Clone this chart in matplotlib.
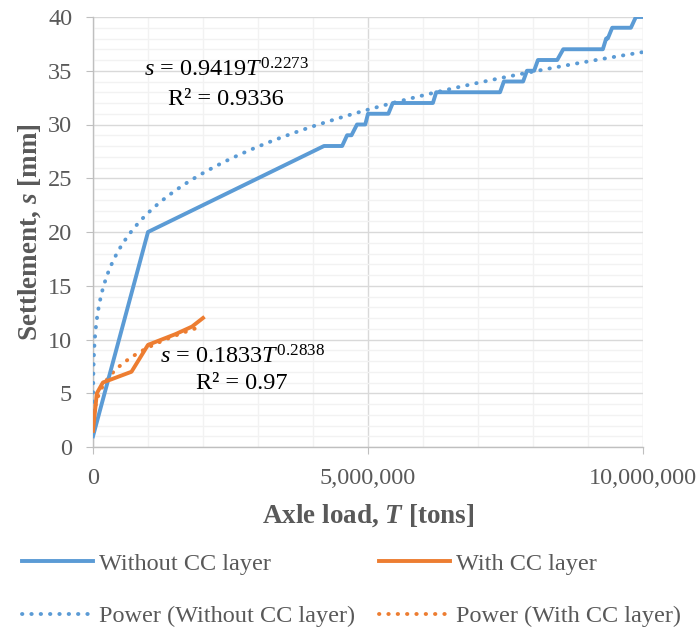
import numpy as np
import matplotlib
matplotlib.use('Agg')
import matplotlib.pyplot as plt
from matplotlib.ticker import MultipleLocator, FuncFormatter

plt.rcParams['font.family'] = 'Liberation Serif'
plt.rcParams['mathtext.fontset'] = 'custom'
plt.rcParams['mathtext.rm'] = 'Liberation Serif'
plt.rcParams['mathtext.it'] = 'Liberation Serif:italic'
plt.rcParams['mathtext.bf'] = 'Liberation Serif:bold'
plt.rcParams['mathtext.bfit'] = 'Liberation Serif:bold:italic'

# measured settlement, without CC layer
T_without = [0, 1.0e6, 4.2e6, 4.53e6, 4.62e6, 4.7e6, 4.8e6, 4.95e6, 5.0e6, 5.37e6,
             5.45e6, 6.18e6, 6.24e6, 7.4e6, 7.47e6, 7.82e6, 7.89e6, 8.02e6, 8.09e6,
             8.44e6, 8.55e6, 9.27e6, 9.33e6, 9.36e6, 9.44e6, 9.78e6, 9.87e6, 10.0e6]
s_without = [1, 20, 28, 28, 29, 29, 30, 30, 31, 31,
             32, 32, 33, 33, 34, 34, 35, 35, 36,
             36, 37, 37, 38, 38, 39, 39, 40, 40]

# measured settlement, with CC layer
T_with = [0, 30000, 70000, 180000, 700000, 1.0e6, 1.5e6, 1.8e6, 2.0e6]
s_with = [1.5, 3.0, 5.0, 6.0, 7.0, 9.5, 10.5, 11.2, 12.0]

# power trendlines s = a*T^b (from chart)
a_without, b_without, r2_without = 0.9419, 0.2273, 0.9336
a_with, b_with, r2_with = 0.1833, 0.2838, 0.97

blue = '#5B9BD5'
orange = '#ED7D31'
grey = '#595959'
LW = 2.8
DOT = (0, (0.1, 2.3))

fig = plt.figure(figsize=(6.99, 6.30), dpi=100)
ax = fig.add_axes([93/699, 1-447/630, 550/699, 430/630])

Tfit1 = np.geomspace(10, max(T_without), 500)
Tfit2 = np.geomspace(1000, max(T_with), 300)

l1, = ax.plot(T_without, s_without, color=blue, lw=LW, label='Without CC layer', zorder=4)
l2, = ax.plot(T_with, s_with, color=orange, lw=LW, label='With CC layer', zorder=5)
l3, = ax.plot(Tfit1, a_without*Tfit1**b_without, color=blue, lw=LW, ls=DOT,
              dash_capstyle='round', label='Power (Without CC layer)', zorder=3)
l4, = ax.plot(Tfit2, a_with*Tfit2**b_with, color=orange, lw=LW, ls=DOT,
              dash_capstyle='round', label='Power (With CC layer)', zorder=3)

ax.set_xlim(0, 10e6)
ax.set_ylim(0, 40)
ax.xaxis.set_major_locator(MultipleLocator(5e6))
ax.xaxis.set_minor_locator(MultipleLocator(1e6))
ax.yaxis.set_major_locator(MultipleLocator(5))
ax.yaxis.set_minor_locator(MultipleLocator(1))
ax.xaxis.set_major_formatter(FuncFormatter(lambda v, p: '{:,.0f}'.format(v)))

ax.grid(which='major', color='#d9d9d9', lw=1.0, zorder=0)
ax.grid(which='minor', color='#f2f2f2', lw=1.0, zorder=0)
ax.set_axisbelow(True)
for sp in ['top', 'right']:
    ax.spines[sp].set_visible(False)
for sp in ['left', 'bottom']:
    ax.spines[sp].set_color('#bfbfbf')
    ax.spines[sp].set_linewidth(1.0)
ax.tick_params(which='major', length=5, color='#bfbfbf', labelsize=17.5, labelcolor=grey)
ax.tick_params(axis='y', which='major', pad=10)
ax.tick_params(axis='x', which='major', pad=10)
ax.tick_params(which='minor', length=0)

ax.set_xlabel('Axle load, $\\mathbfit{T}$ [tons]', fontsize=19.5, fontweight='bold', color=grey, labelpad=10)
ax.set_ylabel('Settlement, $\\mathbfit{s}$ [mm]', fontsize=19.5, fontweight='bold', color=grey, labelpad=3)

ax.text(2.42e6, 35.1, '$s$ = %.4f$T^{%.4f}$' % (a_without, b_without), fontsize=17.5, ha='center', va='center')
ax.text(2.42e6, 32.3, 'R² = %.4f' % r2_without, fontsize=17.5, ha='center', va='center')
ax.text(2.71e6, 8.4, '$s$ = %.4f$T^{%.4f}$' % (a_with, b_with), fontsize=17.5, ha='center', va='center')
ax.text(2.71e6, 5.95, 'R² = %.2f' % r2_with, fontsize=17.5, ha='center', va='center')

fig.legend(handles=[l1, l3, l2, l4], loc='center', bbox_to_anchor=(0.503, 1-590/630),
           ncol=2, frameon=False, fontsize=17.5, handlelength=2.95, handletextpad=0.25,
           columnspacing=0.95, labelspacing=1.25, labelcolor=grey)

fig.savefig('out.png', dpi=100)
